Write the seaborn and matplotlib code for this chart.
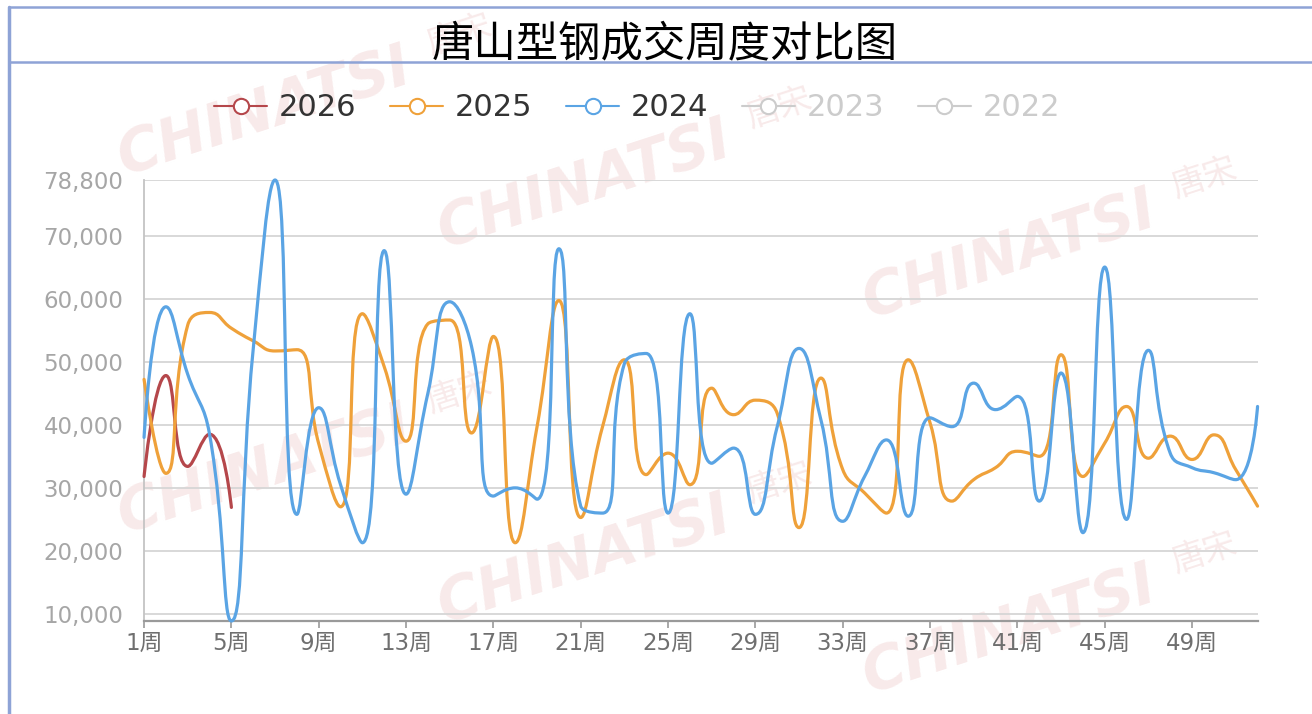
import numpy as np
import pandas as pd
import matplotlib
matplotlib.use('Agg')
import matplotlib.pyplot as plt
from matplotlib.path import Path
from matplotlib.patches import PathPatch
from matplotlib.lines import Line2D
import seaborn as sns

# -------------------------------------------------------
# data (weekly deal volume)
# -------------------------------------------------------
weeks = list(range(1, 53))

y2026 = [31800, 47800, 33400, 38500, 26900]

y2025 = [47200, 32300, 55800, 57800, 55300, 53300, 51700, 51900, 37000, 27000,
         57600, 49200, 37400, 56000, 56600, 38700, 54000, 21300, 39700, 59700,
         25300, 39700, 50300, 32100, 35500, 30500, 45800, 41600, 43900, 41800,
         23700, 47400, 32900, 29200, 26000, 50300, 40300, 27900, 31300, 33200,
         35800, 35000, 51100, 31800, 37100, 42900, 34700, 38200, 34500, 38400,
         32900, 27100]

y2024 = [38000, 58700, 48000, 38500, 8900, 52000, 78800, 25800, 42700, 30500,
         21300, 67600, 29000, 45000, 59500, 52400, 28700, 30000, 28200, 67900,
         27100, 26000, 49700, 51300, 26000, 57600, 33900, 36300, 25800, 39700,
         52100, 40800, 24700, 31800, 37600, 25500, 41100, 39700, 46600, 42400,
         44500, 27900, 48200, 22900, 65000, 25000, 51800, 35500, 33200, 32400,
         31300, 42900]

years = ['2026', '2025', '2024', '2023', '2022']
shown_years = ['2026', '2025', '2024']
colors = {'2026': '#b5474b', '2025': '#efa13a', '2024': '#5aa4e4'}
hidden_color = '#cccccc'

yticks = [10000, 20000, 30000, 40000, 50000, 60000, 70000, 78800]
xticks = list(range(1, 53, 4))

title = '唐山型钢成交周度对比图'

df = pd.concat([
    pd.DataFrame({'week': weeks[:len(y2026)], 'value': y2026, 'year': '2026'}),
    pd.DataFrame({'week': weeks, 'value': y2025, 'year': '2025'}),
    pd.DataFrame({'week': weeks, 'value': y2024, 'year': '2024'}),
], ignore_index=True)


def echarts_smooth(pts, smooth=0.5):
    """bezier path like echarts' smooth line (pts in display coords)"""
    verts = [tuple(pts[0])]
    codes = [Path.MOVETO]
    cp0 = pts[0].copy()
    n = len(pts)
    for i in range(1, n):
        prev, cur = pts[i - 1], pts[i]
        if i == n - 1:
            cp1 = cur.copy()
            nxt_cp0 = cur.copy()
        else:
            nxt = pts[i + 1]
            v = nxt - prev
            len_prev = np.hypot(*(cur - prev))
            len_next = np.hypot(*(nxt - cur))
            ratio = len_next / (len_next + len_prev)
            nxt_cp0 = cur + v * smooth * ratio
            nxt_cp0 = np.minimum(nxt_cp0, np.maximum(nxt, cur))
            nxt_cp0 = np.maximum(nxt_cp0, np.minimum(nxt, cur))
            v = nxt_cp0 - cur
            cp1 = cur - v * len_prev / len_next
            cp1 = np.minimum(cp1, np.maximum(prev, cur))
            cp1 = np.maximum(cp1, np.minimum(prev, cur))
            v = cur - cp1
            nxt_cp0 = cur + v * len_next / len_prev
        verts += [tuple(cp0), tuple(cp1), tuple(cur)]
        codes += [Path.CURVE4] * 3
        cp0 = nxt_cp0
    return np.array(verts), codes


# -------------------------------------------------------
# figure
# -------------------------------------------------------
sns.set_theme(style='white')
plt.rcParams['font.family'] = ['DejaVu Sans', 'Noto Sans CJK SC']
plt.rcParams['axes.unicode_minus'] = False

fig = plt.figure(figsize=(13.12, 7.14), dpi=100)
fig.patch.set_facecolor('white')
ax = fig.add_axes([0.1098, 0.1303, 0.8487, 0.6176])
ax.patch.set_alpha(0)

sns.lineplot(data=df, x='week', y='value', hue='year', hue_order=shown_years,
             palette=colors, legend=False, lw=2.3, ax=ax, sort=False)

ymin = min(min(y2024), min(y2025), min(y2026))
ymax = max(max(y2024), max(y2025), max(y2026))
ax.set_xlim(1, 52)
ax.set_ylim(ymin, ymax)

# swap the straight polylines for smoothed curves
for i, line in enumerate(list(ax.lines)):
    xy = line.get_xydata()
    disp = ax.transData.transform(xy)
    verts, codes = echarts_smooth(disp)
    verts = ax.transData.inverted().transform(verts)
    patch = PathPatch(Path(verts, codes), fill=False, ec=line.get_color(),
                      lw=2.3, capstyle='round', joinstyle='round',
                      zorder=3 + i, clip_on=False)
    ax.add_patch(patch)
    line.set_visible(False)

ax.set_xlim(1, 52)
ax.set_ylim(ymin, ymax)

ax.set_yticks(yticks)
ax.set_yticklabels([f'{v:,}' for v in yticks])
ax.set_xticks(xticks)
ax.set_xticklabels([f'{w}周' for w in xticks])
ax.yaxis.grid(True, color='#d6d6d6', lw=1.3)
ax.xaxis.grid(False)
ax.set_axisbelow(True)
ax.set_xlabel('')
ax.set_ylabel('')

ax.tick_params(axis='y', length=0, pad=15, labelsize=16.5, labelcolor='#a6a6a6')
ax.tick_params(axis='x', length=5, width=1.2, color='#9a9a9a', direction='out',
               pad=3, labelsize=16.5, labelcolor='#6f6f6f', bottom=True)
for s in ['top', 'right']:
    ax.spines[s].set_visible(False)
ax.spines['left'].set_color('#c4c4c4')
ax.spines['left'].set_linewidth(1.3)
ax.spines['bottom'].set_color('#9a9a9a')
ax.spines['bottom'].set_linewidth(1.6)

# title bar and frame
fig.text(0.507, 0.938, title, ha='center', va='center', fontsize=30.5,
         color='black', family=['Noto Sans CJK SC', 'DejaVu Sans'])
frame_c = '#8ea3d6'
fig.add_artist(Line2D([0.0069, 0.0069], [0, 0.990], transform=fig.transFigure,
                      color=frame_c, lw=2.5))
fig.add_artist(Line2D([0.0069, 1], [0.990, 0.990], transform=fig.transFigure,
                      color=frame_c, lw=1.8))
fig.add_artist(Line2D([0.0069, 1], [0.913, 0.913], transform=fig.transFigure,
                      color=frame_c, lw=1.8))

# legend (2023 / 2022 switched off, greyed)
handles = []
for yr in years:
    c = colors.get(yr, hidden_color)
    handles.append(Line2D([], [], color=c, lw=1.5, marker='o', markersize=11,
                          markerfacecolor='white', markeredgewidth=1.5))
leg = fig.legend(handles, years, loc='center', bbox_to_anchor=(0.4855, 0.849),
                 ncol=5, frameon=False, fontsize=22, handlelength=1.75,
                 handletextpad=0.37, columnspacing=1.1)
for t, yr in zip(leg.get_texts(), years):
    t.set_color('#333333' if yr in colors else hidden_color)

# watermarks
wm_pos = [(265, 112), (585, 185), (1010, 255), (265, 470), (585, 560), (1010, 630)]
for px, py in wm_pos:
    fx, fy = px / 1312, 1 - py / 714
    fig.text(fx, fy, 'CHINATSI', rotation=18, fontsize=42, fontweight='bold',
             style='italic', color='#eecaca', alpha=0.4, ha='center',
             va='center', zorder=-1, family='DejaVu Sans')
    tx = px + 205 * np.cos(np.radians(18))
    ty = py - 205 * np.sin(np.radians(18)) - 14
    fig.text(tx / 1312, 1 - ty / 714, '唐宋', rotation=18, fontsize=24,
             color='#eecaca', alpha=0.4, ha='center', va='center', zorder=-1,
             family='Noto Sans CJK SC')

fig.savefig('out.png', dpi=100)
